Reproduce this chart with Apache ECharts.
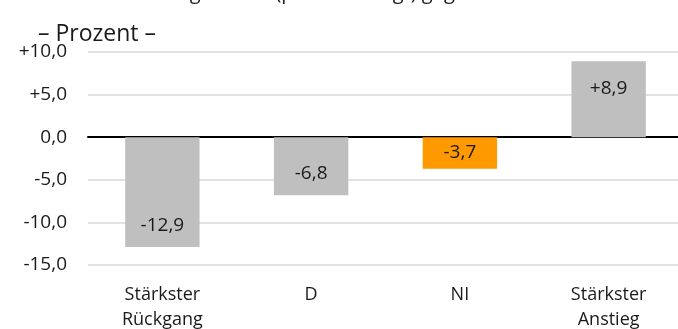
<!DOCTYPE html>
<html>
<head>
<meta charset="utf-8">
<script src="https://cdn.jsdelivr.net/npm/echarts@6/dist/echarts.min.js"></script>
<style>
html,body{margin:0;padding:0;background:#fff;}
#c{width:678px;height:329px;}
</style>
</head>
<body>
<div id="c"></div>
<script>
const categories = ['Stärkster\nRückgang', 'D', 'NI', 'Stärkster\nAnstieg'];
const values = [-12.9, -6.8, -3.7, 8.9];
const barColors = ['#bfbfbf', '#bfbfbf', '#ff9900', '#bfbfbf'];
const yTicks = { min: -15, max: 10, interval: 5 };
const titleText = 'Umsatz Gastgewerbe (preisbereinigt) gegenüber Vormonat';
const subtitleText = '– Prozent –';

function fmt(v) {
  const s = Math.abs(v).toFixed(1).replace('.', ',');
  if (v > 0) return '+' + s;
  if (v < 0) return '-' + s;
  return s;
}

const FONT = '"Open Sans", "Noto Sans", sans-serif';
const chart = echarts.init(document.getElementById('c'));
chart.setOption({
  animation: false,
  textStyle: { fontFamily: FONT },
  title: [
    { text: titleText, left: 67, top: -22, textStyle: { fontFamily: FONT, fontSize: 20, fontWeight: 'normal', color: '#1a1a1a' } },
    { text: subtitleText, left: 33, top: 18, textStyle: { fontFamily: FONT, fontSize: 23, fontWeight: 'normal', color: '#1a1a1a' } }
  ],
  grid: { left: 88, right: -5, top: 52, bottom: 64, containLabel: false, outerBoundsMode: 'none' },
  xAxis: {
    type: 'category',
    data: categories,
    axisTick: { show: false },
    axisLine: { onZero: true, lineStyle: { color: '#000', width: 2 } },
    axisLabel: {
      position: 'bottom',
      fontFamily: FONT, fontSize: 18, color: '#1a1a1a', lineHeight: 25, margin: 17
    }
  },
  yAxis: {
    type: 'value',
    min: yTicks.min, max: yTicks.max, interval: yTicks.interval,
    axisLine: { show: false },
    axisTick: { show: false },
    splitLine: { lineStyle: { color: '#d9d9d9', width: 1.5 } },
    axisLabel: { formatter: fmt, fontFamily: FONT, fontSize: 19, color: '#1a1a1a', margin: 21 }
  },
  series: [{
    type: 'bar',
    barWidth: '50%',
    data: values.map((v, i) => ({
      value: v,
      itemStyle: { color: barColors[i] },
      label: {
        show: true,
        position: Math.abs(v) < 5 ? 'inside' : (v > 0 ? 'insideTop' : 'insideBottom'),
        distance: v > 0 ? 18 : 12
      }
    })),
    label: {
      formatter: p => fmt(p.value),
      fontFamily: FONT, fontSize: 19, color: '#1a1a1a'
    }
  }]
});
</script>
</body>
</html>
